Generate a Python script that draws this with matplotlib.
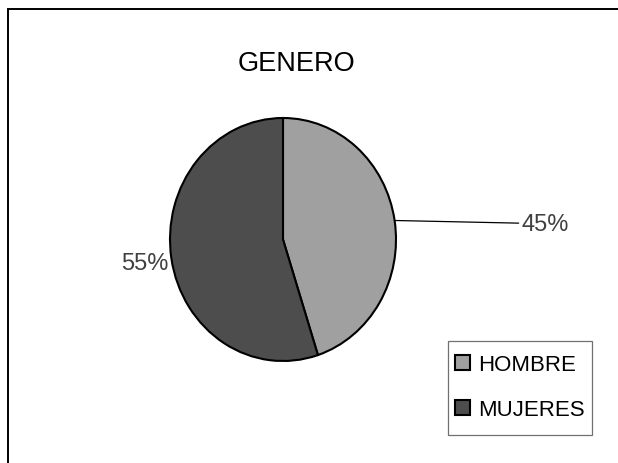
import matplotlib.pyplot as plt
from matplotlib.patches import Rectangle
import numpy as np

plt.rcParams['font.family'] = ['Liberation Sans', 'DejaVu Sans']

# data
categories = ["HOMBRE", "MUJERES"]
values = [45, 55]
slice_colors = ["#a0a0a0", "#4d4d4d"]

W, H = 618, 464
fig = plt.figure(figsize=(W / 100, H / 100), dpi=100)
fig.patch.set_facecolor("white")

# outer frame of the chart area (runs off the right/bottom edge)
fig.add_artist(Rectangle((8 / W, -0.05), 1.1, (H - 10) / H + 0.05,
                         transform=fig.transFigure, fill=False,
                         edgecolor="black", linewidth=1.4))

# title
fig.text(296 / W, 1 - 64 / H, "GENERO", ha="center", va="center",
         fontsize=19.5, color="black")

# pie axes: box in pixels, aspect auto so the pie becomes an ellipse
left, top, pw, ph = 170, 119, 226, 243
ax = fig.add_axes([left / W, 1 - (top + ph) / H, pw / W, ph / H])
wedges, _ = ax.pie(values, colors=slice_colors, startangle=90, counterclock=False,
                   wedgeprops=dict(edgecolor="black", linewidth=1.5))
ax.set_aspect("auto")
ax.set_xlim(-1, 1)
ax.set_ylim(-1, 1)
ax.axis("off")

# percentage labels
total = sum(values)
pcts = [f"{round(v / total * 100)}%" for v in values]
w0 = wedges[0]
ang = np.deg2rad((w0.theta1 + w0.theta2) / 2)
ax.annotate(pcts[0], xy=(np.cos(ang), np.sin(ang)), xytext=(2.11, 0.13),
            ha="left", va="center", fontsize=17, color="#404040",
            arrowprops=dict(arrowstyle="-", color="black", linewidth=0.9,
                            shrinkA=0, shrinkB=0),
            annotation_clip=False)
w1 = wedges[1]
ang = np.deg2rad((w1.theta1 + w1.theta2) / 2)
ax.text(np.cos(ang) - 0.03, np.sin(ang) - 0.04, pcts[1], ha="right", va="center",
        fontsize=17, color="#404040")

# legend box drawn separately, entries placed inside it
fig.add_artist(Rectangle((448 / W, 1 - 436 / H), 144 / W, 94 / H,
                         transform=fig.transFigure, facecolor="white",
                         edgecolor="#707070", linewidth=0.9))
leg = fig.legend(wedges, categories, loc="upper left",
                 bbox_to_anchor=(455 / W, 1 - 355 / H),
                 frameon=False, fontsize=16, handlelength=0.68, handleheight=0.68,
                 handletextpad=0.38, labelspacing=1.09, borderpad=0,
                 borderaxespad=0)
for t in leg.get_texts():
    t.set_color("black")

fig.savefig("out.png", dpi=100)
